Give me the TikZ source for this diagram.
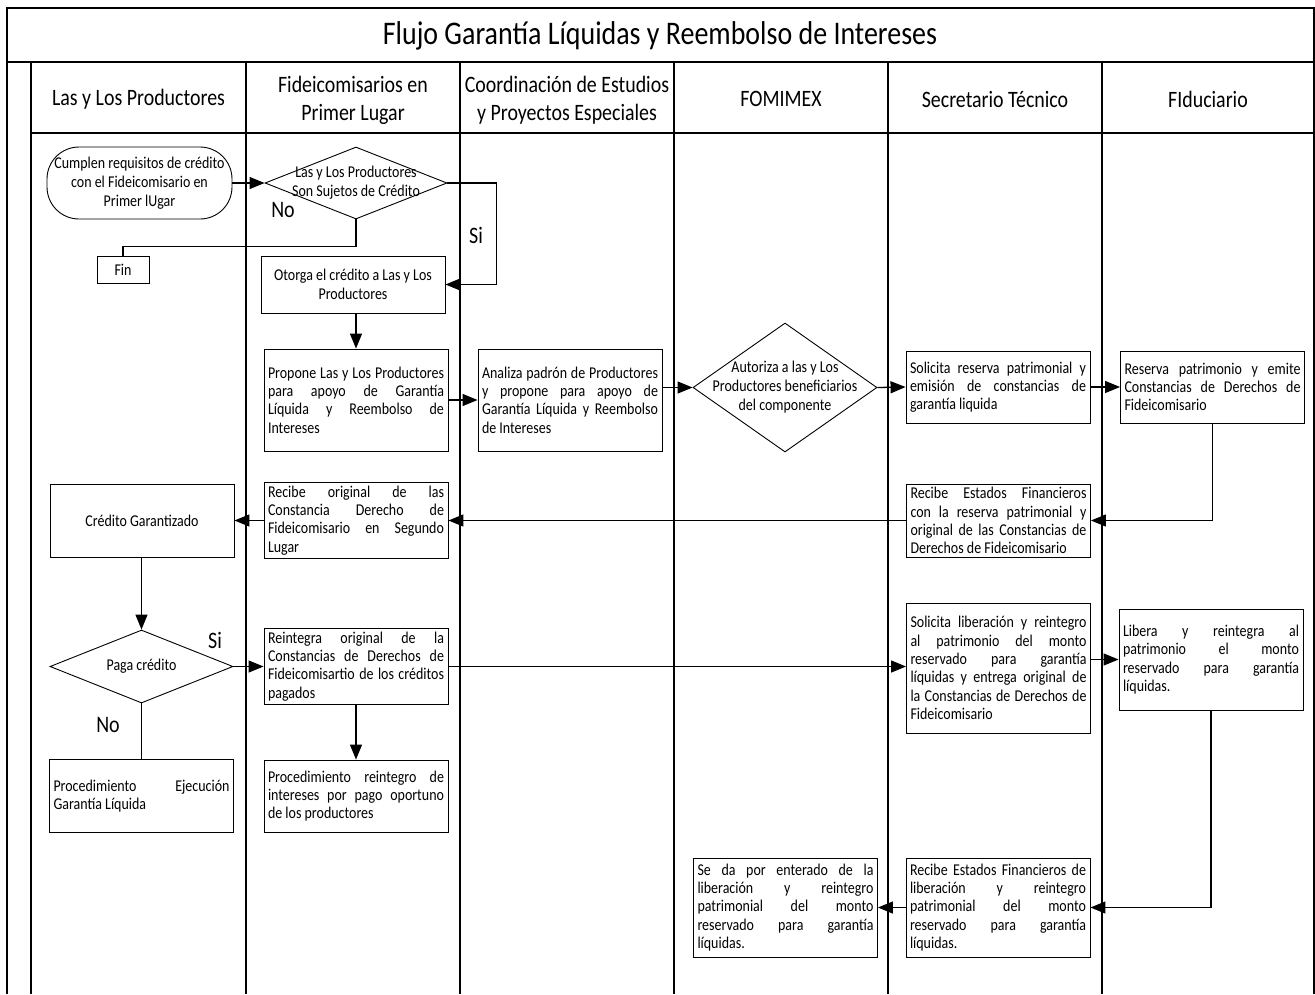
\documentclass[tikz,border=0pt]{standalone}
\usepackage{fontspec}
\setmainfont{Carlito}[FakeStretch=0.847]
\usetikzlibrary{positioning, arrows.meta, shapes.geometric}
\newlength{\jw}
\setlength{\jw}{176pt}
\newcommand{\jl}[1]{\makebox[\jw][s]{\spaceskip=0pt\xspaceskip=0pt\relax#1}\\}
\newcommand{\el}[1]{{\spaceskip=0pt\xspaceskip=0pt\relax#1}}
\tikzset{
  poolline/.style={line width=1.6pt},
  lane/.style={line width=2pt},
  proc/.style={draw, line width=0.9pt, text width=176pt, inner xsep=4pt, inner ysep=3pt, align=left, font=\fontsize{16.5}{18.3}\selectfont},
  cproc/.style={draw, line width=0.9pt, align=center, inner sep=2pt, font=\fontsize{16.5}{19}\selectfont},
  term/.style={cproc, rounded corners=32pt},
  decis/.style={draw, diamond, line width=0.9pt, inner sep=0pt},
  dtext/.style={align=center, inner sep=0pt, font=\fontsize{16.5}{19}\selectfont},
  head/.style={align=center, font=\fontsize{23.5}{28}\selectfont},
  lbl/.style={font=\fontsize{23.6}{26}\selectfont},
  conn/.style={line width=1.3pt},
  arr/.style={conn, -{Triangle[length=15pt,width=12pt]}},
}
\begin{document}
\begin{tikzpicture}[x=1pt,y=-1pt]
\useasboundingbox (0,0) rectangle (1315,994);
\draw[poolline] (7,994) -- (7,8) -- (1314,8) -- (1314,994);
\draw[poolline] (7,62) -- (1314,62);
\draw[poolline] (31,133) -- (1314,133);
\draw[lane] (31,62) -- (31,994);
\draw[lane] (246,62) -- (246,994);
\draw[lane] (460,62) -- (460,994);
\draw[lane] (674,62) -- (674,994);
\draw[lane] (888,62) -- (888,994);
\draw[lane] (1102,62) -- (1102,994);

\node[font=\fontsize{33}{36}\selectfont] (titulo) at (660,36) {Flujo Garantía Líquidas y Reembolso de Intereses};
\node[head] (h-prod) at (138.5,99) {Las y Los Productores};
\node[head] (h-fide) at (353,100) {Fideicomisarios en\\Primer Lugar};
\node[head] (h-coord) at (567,100) {Coordinación de Estudios\\y Proyectos Especiales};
\node[head] (h-fomi) at (781,99) {FOMIMEX};
\node[head] (h-secre) at (995,99) {Secretario Técnico};
\node[head] (h-fidu) at (1208,99) {FIduciario};

\node[term, minimum width=185pt, minimum height=72pt] (cumplen) at (139.5,183) {Cumplen requisitos de crédito\\con el Fideicomisario en\\Primer lUgar};
\node[decis, minimum width=182pt, minimum height=72pt] (sujetos) at (356,183) {};
\node[dtext] (sujetos-t) at (sujetos) {Las y Los Productores\\Son Sujetos de Crédito};
\node[cproc, minimum width=52pt, minimum height=27pt] (fin) at (123,269.5) {Fin};
\node[cproc, minimum width=184pt, minimum height=57pt] (otorga) at (353,284.5) {Otorga el crédito a Las y Los\\Productores};
\node[proc, minimum height=102pt] (propone) at (356,400) {\jl{Propone Las y Los Productores}\jl{para apoyo de Garantía}\jl{Líquida y Reembolso de}\el{Intereses}};
\node[proc, minimum height=102pt] (analiza) at (570,400) {\jl{Analiza padrón de Productores}\jl{y propone para apoyo de}\jl{Garantía Líquida y Reembolso}\el{de Intereses}};
\node[decis, minimum width=184pt, minimum height=129pt] (autoriza) at (785,387.5) {};
\node[dtext] (autoriza-t) at (autoriza) {Autoriza a las y Los\\Productores beneficiarios\\del componente};
\node[proc, minimum height=72pt] (solres) at (998,387) {\jl{Solicita reserva patrimonial y}\jl{emisión de constancias de}\el{garantía liquida}};
\node[proc, minimum height=72pt] (reserva) at (1212.5,387) {\jl{Reserva patrimonio y emite}\jl{Constancias de Derechos de}\el{Fideicomisario}};
\node[cproc, minimum width=184pt, minimum height=73pt] (credito) at (142,520.5) {Crédito Garantizado};
\node[proc, minimum height=73pt] (recorig) at (356,520.5) {\jl{Recibe original de las}\jl{Constancia Derecho de}\jl{Fideicomisario en Segundo}\el{Lugar}};
\node[proc, minimum height=73pt] (recest) at (998.5,520.5) {\jl{Recibe Estados Financieros}\jl{con la reserva patrimonial y}\jl{original de las Constancias de}\el{Derechos de Fideicomisario}};
\node[decis, minimum width=183pt, minimum height=73pt] (paga) at (141.5,666.5) {};
\node[dtext] (paga-t) at (paga) {Paga crédito};
\node[proc, minimum height=73pt] (reint) at (356,666.5) {\jl{Reintegra original de la}\jl{Constancias de Derechos de}\jl{Fideicomisartio de los créditos}\el{pagados}};
\node[proc, minimum height=130pt] (sollib) at (998.5,668) {\jl{Solicita liberación y reintegro}\jl{al patrimonio del monto}\jl{reservado para garantía}\jl{líquidas y entrega original de}\jl{la Constancias de Derechos de}\el{Fideicomisario}};
\node[proc, minimum height=101pt] (libera) at (1211,659.5) {\jl{Libera y reintegra al}\jl{patrimonio el monto}\jl{reservado para garantía}\el{líquidas.}};
\node[proc, minimum height=73pt] (procej) at (141.5,796) {\jl{Procedimiento Ejecución}\el{Garantía Líquida}};
\node[proc, minimum height=72pt] (procre) at (356,796) {\jl{Procedimiento reintegro de}\jl{intereses por pago oportuno}\el{de los productores}};
\node[proc, minimum height=99pt] (sedapor) at (785.5,907.5) {\jl{Se da por enterado de la}\jl{liberación y reintegro}\jl{patrimonial del monto}\jl{reservado para garantía}\el{líquidas.}};
\node[proc, minimum height=99pt] (recfin) at (998,907.5) {\jl{Recibe Estados Financieros de}\jl{liberación y reintegro}\jl{patrimonial del monto}\jl{reservado para garantía}\el{líquidas.}};

\node[lbl] (no-1) at (283,210) {No};
\node[lbl] (si-1) at (476,235) {Si};
\node[lbl] (si-2) at (215,640) {Si};
\node[lbl] (no-2) at (108,725) {No};

\draw[arr] (cumplen.east) -- (sujetos.west);
\draw[conn] (sujetos.south) -- ++(0,27) -| (fin.north);
\draw[arr] (sujetos.east) -- ++(49,0) |- (otorga.east);
\draw[arr] (otorga.south -| propone.north) -- (propone.north);
\draw[arr] (propone.east) -- (analiza.west);
\draw[arr] (analiza.east |- autoriza.west) -- (autoriza.west);
\draw[arr] (autoriza.east) -- (solres.west);
\draw[arr] (solres.east) -- (reserva.west);
\draw[arr] (reserva.south) |- (recest.east);
\draw[arr] (recest.west) -- (recorig.east);
\draw[arr] (recorig.west) -- (credito.east);
\draw[arr] (credito.south -| paga.north) -- (paga.north);
\draw[arr] (paga.east) -- (reint.west);
\draw[conn] (paga.south) -- (procej.north);
\draw[arr] (reint.south) -- (procre.north);
\draw[arr] (reint.east) -- (sollib.west |- reint.east);
\draw[arr] (sollib.east |- libera.west) -- (libera.west);
\draw[arr] (libera.south) |- (recfin.east);
\draw[arr] (recfin.west) -- (sedapor.east);
\end{tikzpicture}
\end{document}
